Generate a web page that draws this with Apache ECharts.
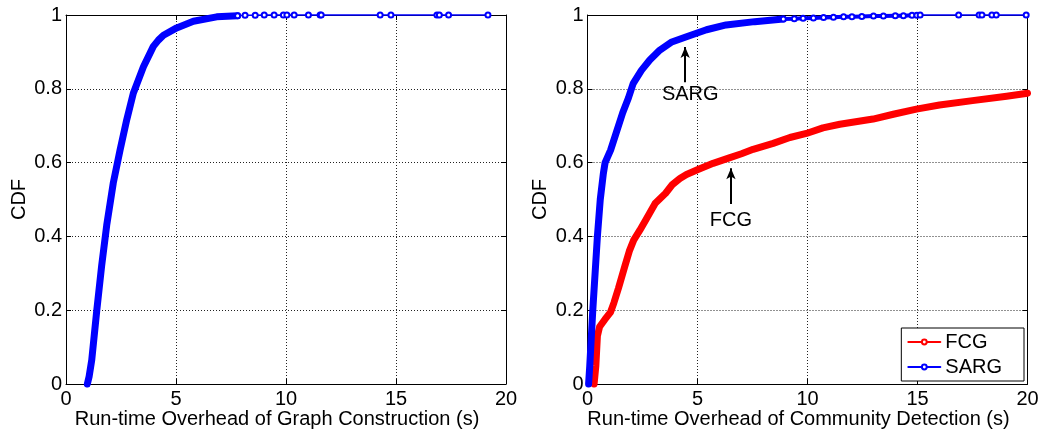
<!DOCTYPE html>
<html>
<head>
<meta charset="utf-8">
<script src="https://cdn.jsdelivr.net/npm/echarts@6/dist/echarts.min.js"></script>
<style>
  html, body { margin: 0; padding: 0; background: #fff; }
  #chart { width: 1044px; height: 432px; }
</style>
</head>
<body>
<div id="chart"></div>
<script>
// ---- tick labels ----
const xTicks = [0, 5, 10, 15, 20];
const yTicks = [0, 0.2, 0.4, 0.6, 0.8, 1];

// ---- Graph construction run-time CDF (left panel) ----
// dense body of the empirical CDF
const constructTime = [0.97, 1.05, 1.17, 1.28, 1.4, 1.62, 1.85, 2.15, 2.46, 2.76, 3.06, 3.52, 3.97, 4.2, 4.43, 5.03, 5.79, 6.85, 7.8];
const constructCdf  = [0, 0.02, 0.065, 0.13, 0.2, 0.32, 0.43, 0.545, 0.635, 0.716, 0.788, 0.86, 0.915, 0.932, 0.945, 0.965, 0.983, 0.995, 0.998];
// sparse tail samples
const constructTailTime = [7.8, 8.14, 8.6, 9.01, 9.46, 9.88, 10.04, 10.37, 11.02, 11.55, 11.6, 14.28, 14.77, 16.86, 16.97, 17.39, 19.18];
const constructTailCdf  = [0.998, 0.999, 0.999, 1, 1, 1, 1, 1, 1, 1, 1, 1, 1, 1, 1, 1, 1];

// ---- Community detection run-time CDF (right panel) ----
const sargTime = [0.05, 0.1, 0.24, 0.45, 0.58, 0.72, 0.8, 1.05, 1.3, 1.6, 1.86, 2.08, 2.45, 2.83, 3.29, 3.8, 4.5, 5.41, 6.3, 7.6, 8.9];
const sargCdf  = [0, 0.047, 0.2, 0.4, 0.5, 0.57, 0.6, 0.634, 0.68, 0.735, 0.775, 0.815, 0.85, 0.878, 0.905, 0.926, 0.941, 0.96, 0.973, 0.982, 0.989];
const sargTailTime = [8.9, 9.4, 9.8, 10.27, 10.73, 11.18, 11.64, 12.02, 12.47, 13.0, 13.45, 13.99, 14.36, 14.75, 14.97, 15.12, 16.87, 17.8, 17.93, 18.38, 18.58, 19.94];
const sargTailCdf  = [0.989, 0.99, 0.991, 0.992, 0.993, 0.994, 0.995, 0.995, 0.996, 0.997, 0.997, 0.998, 0.998, 0.999, 0.999, 1, 1, 1, 1, 1, 1, 1];
// samples up to this index are packed closely enough to merge into a band
const sargTailDenseCount = 16;

const fcgTime = [0.3, 0.38, 0.45, 0.55, 0.79, 1.05, 1.2, 1.41, 1.7, 1.9, 2.1, 2.38, 2.68, 3.08, 3.55, 3.85, 4.2, 4.5, 5.05, 5.71, 6.41, 7.0, 7.53, 8.44, 9.2, 9.95, 10.7, 11.47, 12.98, 13.9, 14.95, 16.0, 17.5, 19.05, 20];
const fcgCdf  = [0, 0.05, 0.13, 0.155, 0.175, 0.195, 0.22, 0.26, 0.32, 0.36, 0.39, 0.417, 0.448, 0.49, 0.517, 0.54, 0.557, 0.568, 0.582, 0.598, 0.612, 0.624, 0.636, 0.652, 0.668, 0.679, 0.694, 0.704, 0.718, 0.731, 0.745, 0.756, 0.768, 0.78, 0.788];

// ---- annotations (label, arrow x, text x, text y, arrow tail y, arrow head y) ----
const noteNames  = ['SARG', 'FCG'];
const noteX      = [4.44, 6.52];
const noteTextX  = [4.67, 6.52];
const noteTextY  = [0.785, 0.444];
const arrowFromY = [0.818, 0.488];
const arrowToY   = [0.913, 0.585];

const pairs = (xs, ys) => xs.map((x, i) => [x, ys[i]]);

const FONT = "'Liberation Sans', Arial, Helvetica, sans-serif";
const FS = 20;
const BLUE = '#0000ff';
const RED = '#ff0000';

function bottomAxis(grid, name) {
  return {
    gridIndex: grid, type: 'value', position: 'bottom',
    min: xTicks[0], max: xTicks[xTicks.length - 1], interval: 5,
    name: name, nameLocation: 'middle', nameGap: 25, nameMoveOverlap: false,
    nameTextStyle: { fontFamily: FONT, fontSize: FS, color: '#000', padding: [0, 18, 0, 0] },
    axisLine: { show: true, onZero: false, lineStyle: { color: '#000', width: 1 } },
    axisTick: { show: true, inside: true, length: 5, lineStyle: { color: '#000' } },
    axisLabel: { fontFamily: FONT, fontSize: FS, color: '#000', margin: 5 },
    splitLine: { show: true, lineStyle: { color: '#222', type: [1, 2], width: 1 } }
  };
}
function topAxis(grid) {
  return {
    gridIndex: grid, type: 'value', position: 'top',
    min: xTicks[0], max: xTicks[xTicks.length - 1], interval: 5,
    axisLine: { show: true, onZero: false, lineStyle: { color: '#000', width: 1 } },
    axisTick: { show: true, inside: true, length: 5, lineStyle: { color: '#000' } },
    axisLabel: { show: false }, splitLine: { show: false }
  };
}
function leftAxis(grid) {
  return {
    gridIndex: grid, type: 'value', position: 'left',
    min: yTicks[0], max: yTicks[yTicks.length - 1], interval: 0.2,
    name: 'CDF', nameLocation: 'middle', nameGap: 37,
    nameTextStyle: { fontFamily: FONT, fontSize: FS, color: '#000' },
    axisLine: { show: true, onZero: false, lineStyle: { color: '#000', width: 1 } },
    axisTick: { show: true, inside: true, length: 5, lineStyle: { color: '#000' } },
    axisLabel: { fontFamily: FONT, fontSize: FS, color: '#000', margin: 4 },
    splitLine: { show: true, lineStyle: { color: '#222', type: [1, 2], width: 1 } }
  };
}
function rightAxis(grid) {
  return {
    gridIndex: grid, type: 'value', position: 'right',
    min: yTicks[0], max: yTicks[yTicks.length - 1], interval: 0.2,
    axisLine: { show: true, onZero: false, lineStyle: { color: '#000', width: 1 } },
    axisTick: { show: true, inside: true, length: 5, lineStyle: { color: '#000' } },
    axisLabel: { show: false }, splitLine: { show: false }
  };
}

// thick body drawn from densely packed samples
function band(name, xi, yi, data, color, width) {
  return {
    name: name, type: 'line', xAxisIndex: xi, yAxisIndex: yi,
    data: data, clip: false, silent: true, animation: false,
    symbol: 'emptyCircle', showSymbol: false,
    lineStyle: { color: color, width: width, cap: 'round', join: 'round' },
    itemStyle: { color: color }, z: 3
  };
}
// sparse tail with individual sample markers
function tail(name, xi, yi, data, color) {
  return {
    name: name, type: 'line', xAxisIndex: xi, yAxisIndex: yi,
    data: data, clip: false, silent: true, animation: false,
    symbol: 'emptyCircle', symbolSize: 5, showSymbol: true,
    lineStyle: { color: color, width: 1.5 },
    itemStyle: { color: color, borderColor: color, borderWidth: 1.6 }, z: 4
  };
}

const chart = echarts.init(document.getElementById('chart'), null, { renderer: 'canvas' });

const annotationSeries = {
  name: 'annotations', type: 'line', xAxisIndex: 2, yAxisIndex: 2,
  data: [], silent: true, animation: false, showSymbol: false,
  markLine: {
    silent: true, animation: false,
    symbol: ['none', 'arrow'], symbolSize: [7, 11],
    lineStyle: { color: '#000', width: 2, type: 'solid' },
    label: { show: false },
    data: noteNames.map((n, i) => [
      { coord: [noteX[i], arrowFromY[i]] },
      { coord: [noteX[i], arrowToY[i]] }
    ])
  },
  markPoint: {
    silent: true, animation: false, symbol: 'circle', symbolSize: 0,
    label: { show: true, position: 'inside', formatter: '{b}', fontFamily: FONT, fontSize: 20, color: '#000' },
    data: noteNames.map((n, i) => ({ name: n, coord: [noteTextX[i], noteTextY[i]] }))
  }
};

const sargMid = pairs(sargTailTime, sargTailCdf).slice(0, sargTailDenseCount);

chart.setOption({
  backgroundColor: '#fff',
  animation: false,
  grid: [
    { left: 66, top: 15, width: 440, height: 369, containLabel: false, outerBoundsMode: 'none' },
    { left: 587.5, top: 15, width: 440, height: 369, containLabel: false, outerBoundsMode: 'none' }
  ],
  xAxis: [
    bottomAxis(0, 'Run-time Overhead of Graph Construction (s)'),
    topAxis(0),
    bottomAxis(1, 'Run-time Overhead of Community Detection (s)'),
    topAxis(1)
  ],
  yAxis: [leftAxis(0), rightAxis(0), leftAxis(1), rightAxis(1)],
  legend: {
    data: ['FCG', 'SARG'],
    orient: 'vertical', right: 20, bottom: 51,
    backgroundColor: '#fff', borderColor: '#000', borderWidth: 1, borderRadius: 0,
    padding: [4, 22, 4, 6],
    itemWidth: 32, itemHeight: 6, itemGap: 5, itemTextGap: 4,
    lineStyle: { width: 2 },
    textStyle: { fontFamily: FONT, fontSize: 20, lineHeight: 20, color: '#000' },
    selectedMode: false
  },
  series: [
    band('Graph Construction', 0, 0, pairs(constructTime, constructCdf), BLUE, 7),
    tail('Graph Construction tail', 0, 0, pairs(constructTailTime, constructTailCdf), BLUE),
    band('FCG', 2, 2, pairs(fcgTime, fcgCdf), RED, 7),
    band('SARG', 2, 2, pairs(sargTime, sargCdf), BLUE, 7),
    band('SARG packed', 2, 2, sargMid, BLUE, 4),
    tail('SARG tail', 2, 2, pairs(sargTailTime, sargTailCdf), BLUE),
    annotationSeries
  ]
});
</script>
</body>
</html>
